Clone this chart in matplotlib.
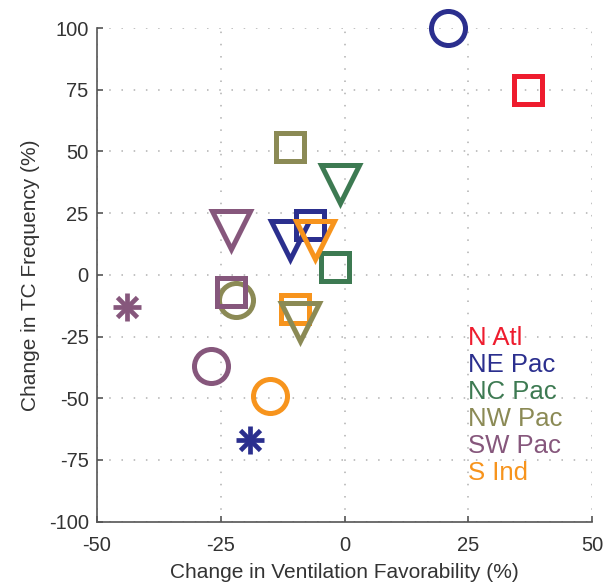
"""Scatter of TC frequency change vs ventilation favorability change by basin."""

import matplotlib
matplotlib.use("Agg")
import matplotlib.pyplot as plt

plt.rcParams["font.family"] = ["Liberation Sans", "DejaVu Sans"]
plt.rcParams["axes.unicode_minus"] = False

BASINS = ["N Atl", "NE Pac", "NC Pac", "NW Pac", "SW Pac", "S Ind"]
COLORS = ["#ee1c2e", "#2b2f8e", "#3d7a52", "#8b8a55", "#86577c", "#f7941d"]

# one point per (basin, model): marker style encodes the model
CIRCLE_X = [21, -22, -27, -15]
CIRCLE_Y = [100, -10, -37, -49]
CIRCLE_BASIN = ["NE Pac", "NW Pac", "SW Pac", "S Ind"]

SQUARE_X = [37, -7, -2, -11, -23, -10]
SQUARE_Y = [75, 20, 3, 52, -7, -14]
SQUARE_BASIN = ["N Atl", "NE Pac", "NC Pac", "NW Pac", "SW Pac", "S Ind"]

TRIANGLE_X = [-11, -1, -9, -23, -6]
TRIANGLE_Y = [14, 37, -19, 18, 14]
TRIANGLE_BASIN = ["NE Pac", "NC Pac", "NW Pac", "SW Pac", "S Ind"]

STAR_X = [-19, -44]
STAR_Y = [-67, -13]
STAR_BASIN = ["NE Pac", "SW Pac"]

TICKS_X = [-50, -25, 0, 25, 50]
TICKS_Y = [-100, -75, -50, -25, 0, 25, 50, 75, 100]

color_of = dict(zip(BASINS, COLORS))

fig = plt.figure(figsize=(6.07, 5.85), dpi=100)
ax = fig.add_axes([0.1598, 0.1082, 0.8155, 0.8439])

groups = [
    (CIRCLE_X, CIRCLE_Y, CIRCLE_BASIN, "o", 24.5, 3.6),
    (SQUARE_X, SQUARE_Y, SQUARE_BASIN, "s", 20, 3.6),
    (TRIANGLE_X, TRIANGLE_Y, TRIANGLE_BASIN, "v", 27, 3.6),
]
for xs, ys, basins, marker, size, lw in groups:
    for x, y, b in zip(xs, ys, basins):
        ax.plot(x, y, marker=marker, markersize=size, markerfacecolor="none",
                markeredgecolor=color_of[b], markeredgewidth=lw, linestyle="none",
                clip_on=False, zorder=3)

for x, y, b in zip(STAR_X, STAR_Y, STAR_BASIN):
    c = color_of[b]
    ax.plot(x, y, marker="+", markersize=20, markeredgecolor=c,
            markeredgewidth=3.4, linestyle="none", zorder=3)
    ax.plot(x, y, marker="x", markersize=15, markeredgecolor=c,
            markeredgewidth=3.4, linestyle="none", zorder=3)

# basin names double as the legend
for i, (name, c) in enumerate(zip(BASINS, COLORS)):
    ax.text(0.749, 0.372 - i * 0.0547, name, transform=ax.transAxes,
            color=c, fontsize=18.5, va="center", ha="left")

ax.set_xlim(-50, 50)
ax.set_ylim(-100, 100)
ax.set_xticks(TICKS_X)
ax.set_yticks(TICKS_Y)
ax.grid(True, linestyle=(0, (1, 7)), color="#b0b0b0", linewidth=1.1)
ax.set_axisbelow(True)

for side in ("top", "right"):
    ax.spines[side].set_visible(False)
for side in ("left", "bottom"):
    ax.spines[side].set_color("#555555")
    ax.spines[side].set_linewidth(1.2)

ax.tick_params(direction="in", length=4, width=1.2, color="#555555",
               labelsize=14.5, labelcolor="#333333")
ax.tick_params(axis="x", pad=10)
ax.tick_params(axis="y", pad=6)
ax.set_xlabel("Change in Ventilation Favorability (%)", fontsize=15,
              color="#333333", labelpad=6)
ax.set_ylabel("Change in TC Frequency (%)", fontsize=15,
              color="#333333", labelpad=6)

fig.savefig("out.png", dpi=100)
